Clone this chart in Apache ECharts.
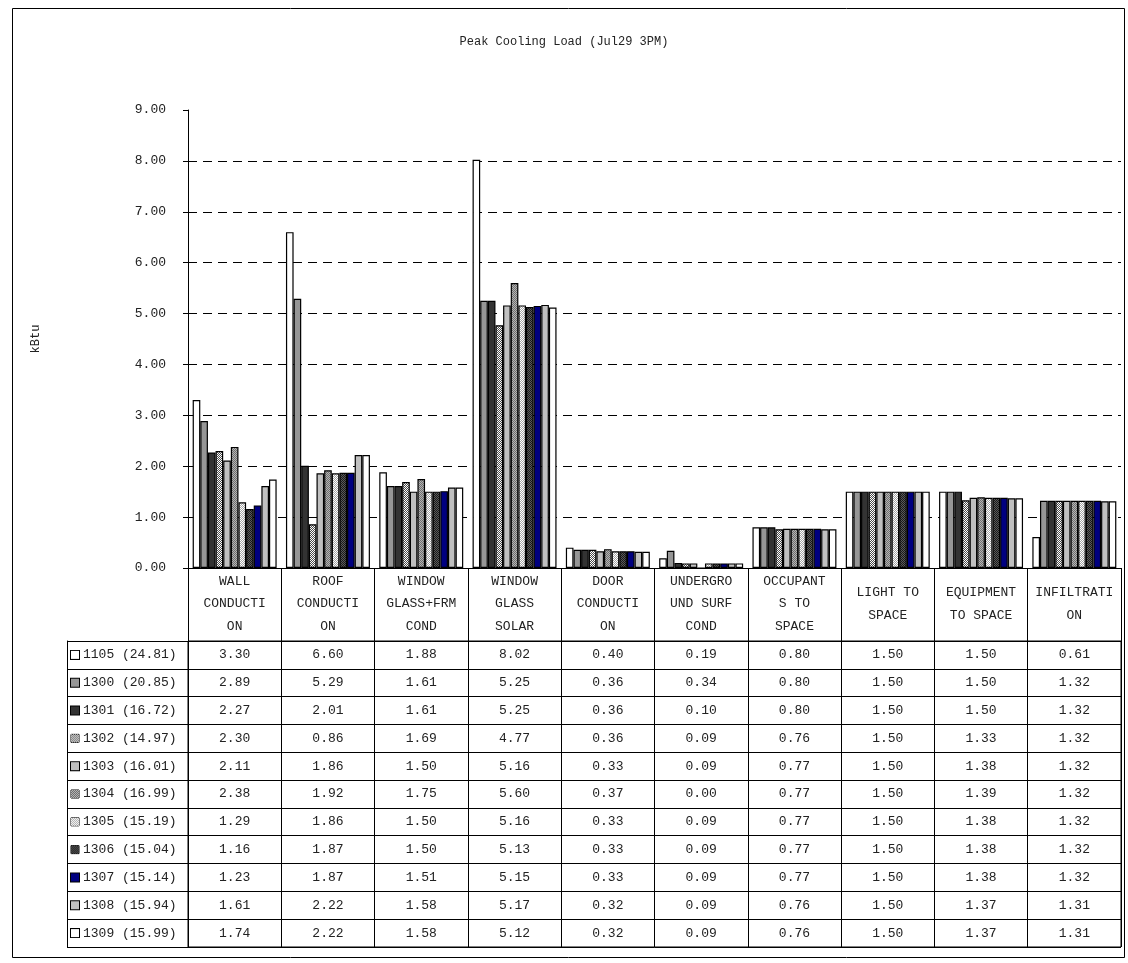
<!DOCTYPE html>
<html>
<head>
<meta charset="utf-8">
<script src="https://cdn.jsdelivr.net/npm/echarts@6/dist/echarts.min.js"></script>
<style>
  html, body { margin: 0; padding: 0; background: #fff; }
  #chart { width: 1128px; height: 963px; }
</style>
</head>
<body>
<div id="chart"></div>
<script>
// Load components (columns of the chart / data table)
const categories = [
  'WALL\nCONDUCTI\nON', 'ROOF\nCONDUCTI\nON', 'WINDOW\nGLASS+FRM\nCOND', 'WINDOW\nGLASS\nSOLAR',
  'DOOR\nCONDUCTI\nON', 'UNDERGRO\nUND SURF\nCOND', 'OCCUPANT\nS TO\nSPACE', 'LIGHT TO\nSPACE',
  'EQUIPMENT\nTO SPACE', 'INFILTRATI\nON'
];

// Cases (rows of the data table), peak load in brackets
const caseNames = [
  '1105 (24.81)', '1300 (20.85)', '1301 (16.72)', '1302 (14.97)', '1303 (16.01)', '1304 (16.99)',
  '1305 (15.19)', '1306 (15.04)', '1307 (15.14)', '1308 (15.94)', '1309 (15.99)'
];

// kBtu per component
const load1105 = [3.30, 6.60, 1.88, 8.02, 0.40, 0.19, 0.80, 1.50, 1.50, 0.61];
const load1300 = [2.89, 5.29, 1.61, 5.25, 0.36, 0.34, 0.80, 1.50, 1.50, 1.32];
const load1301 = [2.27, 2.01, 1.61, 5.25, 0.36, 0.10, 0.80, 1.50, 1.50, 1.32];
const load1302 = [2.30, 0.86, 1.69, 4.77, 0.36, 0.09, 0.76, 1.50, 1.33, 1.32];
const load1303 = [2.11, 1.86, 1.50, 5.16, 0.33, 0.09, 0.77, 1.50, 1.38, 1.32];
const load1304 = [2.38, 1.92, 1.75, 5.60, 0.37, 0.00, 0.77, 1.50, 1.39, 1.32];
const load1305 = [1.29, 1.86, 1.50, 5.16, 0.33, 0.09, 0.77, 1.50, 1.38, 1.32];
const load1306 = [1.16, 1.87, 1.50, 5.13, 0.33, 0.09, 0.77, 1.50, 1.38, 1.32];
const load1307 = [1.23, 1.87, 1.51, 5.15, 0.33, 0.09, 0.77, 1.50, 1.38, 1.32];
const load1308 = [1.61, 2.22, 1.58, 5.17, 0.32, 0.09, 0.76, 1.50, 1.37, 1.31];
const load1309 = [1.74, 2.22, 1.58, 5.12, 0.32, 0.09, 0.76, 1.50, 1.37, 1.31];

const loads = [load1105, load1300, load1301, load1302, load1303, load1304,
               load1305, load1306, load1307, load1308, load1309];

const yTicks = { min: 0, max: 9, interval: 1 };

// ---- fills: plain colours and small two-tone pixel patterns ----
function checker(a, b, size) {
  const c = document.createElement('canvas');
  c.width = size; c.height = size;
  const g = c.getContext('2d');
  for (let y = 0; y < size; y++) {
    for (let x = 0; x < size; x++) {
      g.fillStyle = ((x + y) % 2 === 0) ? a : b;
      g.fillRect(x, y, 1, 1);
    }
  }
  return c;
}
const fillSpecs = [
  '#ffffff',
  '#969696',
  '#333333',
  ['#ffffff', '#4a4a4a'],
  '#c0c0c0',
  ['#6e6e6e', '#b4b4b4'],
  ['#ffffff', '#a6a6a6'],
  ['#1a1a1a', '#5a5a5a'],
  '#000080',
  '#c0c0c0',
  '#ffffff'
];
const barFills = fillSpecs.map(f => Array.isArray(f)
  ? { image: checker(f[0], f[1], 2), repeat: 'repeat' } : f);
const swatchFills = fillSpecs.map(f => Array.isArray(f)
  ? { image: checker(f[0], f[1], 8) } : f);

const FONT = 'Liberation Mono';
const INK = '#222';

const barSeries = loads.map((vals, i) => ({
  name: caseNames[i],
  type: 'bar',
  xAxisIndex: 0,
  yAxisIndex: 0,
  data: vals,
  barGap: '0%',
  barCategoryGap: '10%',
  itemStyle: { color: barFills[i], borderColor: '#000', borderWidth: 1.2 },
  silent: true
}));

// Table cell values
const cellData = [];
loads.forEach((vals, r) => vals.forEach((v, c) => cellData.push([c, r, v])));

const rowRich = { t: { fontFamily: FONT, fontSize: 13, color: INK, padding: [0, 0, 0, 4] } };
swatchFills.forEach((f, i) => {
  rowRich['s' + i] = { width: 8, height: 8, backgroundColor: f, borderColor: '#000', borderWidth: 1 };
});

const chart = echarts.init(document.getElementById('chart'), null, { renderer: 'canvas' });
chart.setOption({
  animation: false,
  backgroundColor: '#fff',
  title: {
    text: 'Peak Cooling Load (Jul29 3PM)',
    left: 'center',
    top: 31,
    textStyle: { fontFamily: FONT, fontSize: 12, fontWeight: 'normal', color: INK }
  },
  graphic: [{
    type: 'rect', left: 10, top: 6, silent: true,
    shape: { width: 1112, height: 949 },
    style: { fill: 'none', stroke: '#000', lineWidth: 1 }
  }],
  grid: [
    { left: 188, right: 7, top: 110, height: 458, show: false },
    { left: 188, right: 7, top: 641, height: 306, show: true, borderColor: '#000', borderWidth: 1 }
  ],
  xAxis: [
    {
      gridIndex: 0, type: 'category', data: categories,
      axisLine: { show: true, lineStyle: { color: '#000', width: 1 } },
      axisTick: { show: true, interval: 0, length: 73, lineStyle: { color: '#000' } },
      axisLabel: {
        interval: 0, margin: 36, verticalAlign: 'middle', lineHeight: 22.5,
        fontFamily: FONT, fontSize: 13, color: INK
      },
      splitLine: { show: false }
    },
    {
      gridIndex: 1, type: 'category', data: categories,
      axisLine: { show: false }, axisTick: { show: false }, axisLabel: { show: false },
      splitLine: { show: true, interval: 0, lineStyle: { color: '#000', width: 1 } }
    }
  ],
  yAxis: [
    {
      gridIndex: 0, type: 'value', min: yTicks.min, max: yTicks.max, interval: yTicks.interval,
      name: 'kBtu', nameLocation: 'middle', nameGap: 146, nameRotate: 90,
      nameTextStyle: { fontFamily: FONT, fontSize: 12, color: INK },
      axisLine: { show: true, lineStyle: { color: '#000', width: 1 } },
      axisTick: { show: true, length: 5, lineStyle: { color: '#000' } },
      axisLabel: {
        margin: 22, fontFamily: FONT, fontSize: 13, color: INK,
        formatter: v => v.toFixed(2)
      },
      splitLine: {
        show: true, showMinLine: false, showMaxLine: false,
        lineStyle: { color: '#000', width: 1, type: [9, 6] }
      }
    },
    {
      gridIndex: 1, type: 'category', data: caseNames, inverse: true,
      position: 'left', offset: 121,
      axisLine: { show: true, lineStyle: { color: '#000', width: 1 } },
      axisTick: { show: true, inside: true, length: 121, interval: 0, lineStyle: { color: '#000' } },
      axisLabel: {
        inside: true, margin: 4, interval: 0, align: 'left',
        formatter: (v, i) => '{s' + i + '|}{t|' + v + '}',
        rich: rowRich
      },
      splitLine: { show: true, interval: 0, lineStyle: { color: '#000', width: 1 } }
    }
  ],
  series: barSeries.concat([{
    type: 'custom',
    xAxisIndex: 1,
    yAxisIndex: 1,
    silent: true,
    data: cellData,
    renderItem: (params, api) => {
      const p = api.coord([api.value(0), api.value(1)]);
      return {
        type: 'text',
        x: p[0], y: p[1],
        style: {
          text: api.value(2).toFixed(2),
          textAlign: 'center', textVerticalAlign: 'middle',
          font: '13px "' + FONT + '"', fill: INK
        }
      };
    }
  }])
});
</script>
</body>
</html>
